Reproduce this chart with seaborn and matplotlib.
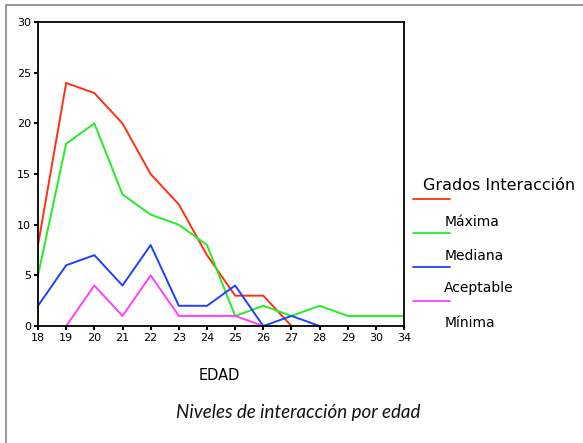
import numpy as np
import pandas as pd
import matplotlib
matplotlib.use("Agg")
import matplotlib.pyplot as plt
import seaborn as sns
from matplotlib.lines import Line2D

# Data
edad = ["18", "19", "20", "21", "22", "23", "24", "25", "26", "27", "28", "29", "30", "34"]
maxima = [8, 24, 23, 20, 15, 12, 7, 3, 3, 0, None, None, None, None]
mediana = [5, 18, 20, 13, 11, 10, 8, 1, 2, 1, 2, 1, 1, 1]
aceptable = [2, 6, 7, 4, 8, 2, 2, 4, 0, 1, 0, None, None, None]
minima = [None, 0, 4, 1, 5, 1, 1, 1, 0, None, None, None, None, None]

grados = ["Máxima", "Mediana", "Aceptable", "Mínima"]
colores = ["#ff3010", "#22ee22", "#2040ff", "#ff40ff"]

rows = []
for nombre, serie in zip(grados, [maxima, mediana, aceptable, minima]):
    for e, v in zip(edad, serie):
        if v is not None:
            rows.append({"EDAD": e, "valor": v, "grado": nombre})
df = pd.DataFrame(rows)

sns.set_style("white")
plt.rcParams["font.family"] = ["DejaVu Sans"]
plt.rcParams["text.color"] = "black"

fig = plt.figure(figsize=(5.83, 4.43), dpi=100)
ax = fig.add_axes([0.0652, 0.264, 0.628, 0.686])

sns.lineplot(data=df, x="EDAD", y="valor", hue="grado", hue_order=grados,
             palette=colores, linewidth=1.4, legend=False, ax=ax, sort=False)

ax.set_xlim(0, len(edad) - 1)
ax.set_ylim(0, 30)
ax.set_yticks([0, 5, 10, 15, 20, 25, 30])
ax.set_xticks(range(len(edad)))
ax.set_xticklabels(edad)
ax.set_xlabel("")
ax.set_ylabel("")
ax.tick_params(axis="both", direction="out", length=3, width=1.5, labelsize=8,
               bottom=True, left=True, pad=2, colors="black")
for s in ax.spines.values():
    s.set_color("black")
    s.set_linewidth(1.3)

# axis label and caption
fig.text(0.377, 0.153, "EDAD", fontsize=10.5, ha="center", va="center")
fig.text(0.511, 0.068, "Niveles de interacción por edad", fontsize=13.5,
         style="italic", family=["Lato", "DejaVu Sans"], ha="center", va="center",
         color="#111111")

# legend (SPSS style: line sample above each label)
fig.text(0.7256, 0.582, "Grados Interacción", fontsize=11.5, ha="left", va="center")
line_y = [199, 233, 267, 301]
label_y = [222, 256, 288, 323]
for nombre, c, ly, ty in zip(grados, colores, line_y, label_y):
    fig.add_artist(Line2D([0.708, 0.772], [1 - ly / 443, 1 - ly / 443],
                          color=c, linewidth=1.3, transform=fig.transFigure))
    fig.text(0.762, 1 - ty / 443, nombre, fontsize=10, ha="left", va="center")

# grey frame (top and left edges)
fig.add_artist(Line2D([6 / 583, 1], [1 - 5 / 443, 1 - 5 / 443], color="#999999",
                      linewidth=1.5, transform=fig.transFigure))
fig.add_artist(Line2D([6 / 583, 6 / 583], [0, 1 - 5 / 443], color="#999999",
                      linewidth=1.5, transform=fig.transFigure))

fig.savefig("out.png", dpi=100)
